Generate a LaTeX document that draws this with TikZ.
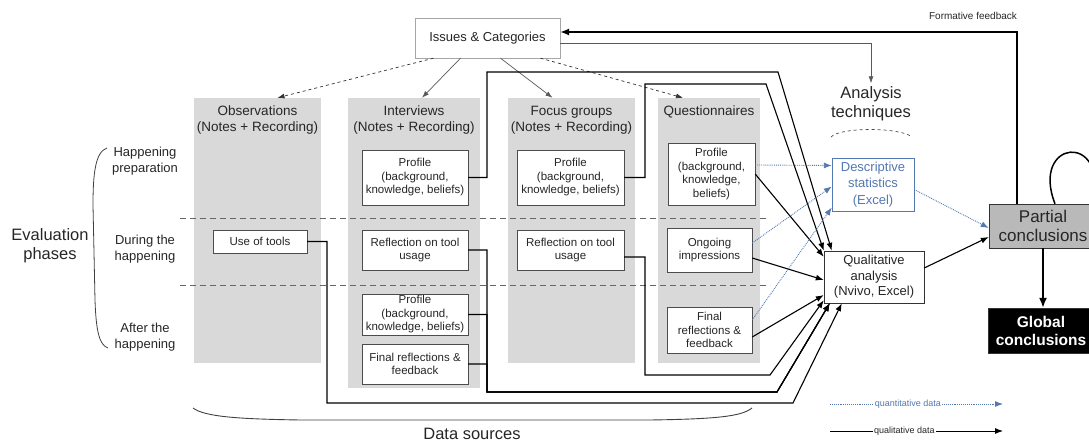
\documentclass[tikz,border=0pt]{standalone}
\usepackage{fontspec}
\setmainfont{Liberation Sans}
\usetikzlibrary{arrows.meta,positioning,calc}

\definecolor{colgray}{RGB}{217,217,217}
\definecolor{partgray}{RGB}{185,185,185}
\definecolor{quantblue}{RGB}{84,120,175}
\definecolor{txtgray}{RGB}{38,38,38}

\begin{document}
\begin{tikzpicture}[x=1pt,y=-1pt,
    colbg/.style={fill=colgray,draw=none,inner sep=0pt},
    srcbox/.style={draw=black!70,fill=white,align=center,inner sep=0pt,text=txtgray,
        font=\fontsize{11.5}{13.5}\selectfont},
    coltitle/.style={align=center,text=txtgray,font=\fontsize{13.5}{16}\selectfont},
    phaselabel/.style={align=center,text=txtgray,font=\fontsize{13}{16}\selectfont},
    biglabel/.style={align=center,text=txtgray,font=\fontsize{16.5}{19}\selectfont},
    anbox/.style={draw=black!80,fill=white,align=center,inner sep=0pt,text=txtgray,
        font=\fontsize{13}{15.5}\selectfont},
    qualarrow/.style={draw=black,line width=1.1pt,-{Latex[length=8pt,width=6pt]}},
    quantarrow/.style={draw=quantblue,densely dotted,line width=0.9pt,-{Latex[length=8pt,width=6pt]}},
    thinarrow/.style={draw=black!65,line width=0.7pt,-{Latex[length=7pt,width=5pt]}},
    dasharrow/.style={draw=black!80,dashed,line width=0.7pt,-{Latex[length=7pt,width=5pt]}},
    phaseline/.style={draw=black!60,dash pattern=on 6pt off 4pt,line width=0.8pt},
    bigarrow/.style={draw=black,line width=1.6pt,-{Latex[length=10pt,width=8pt]}},
]
    \useasboundingbox (0,0) rectangle (1089,443);

    % Data source columns
    \node[colbg,minimum width=127pt,minimum height=265pt] (obs) at (257.5,230.5) {};
    \node[colbg,minimum width=132pt,minimum height=290pt] (int) at (414,243) {};
    \node[colbg,minimum width=127pt,minimum height=265pt] (foc) at (571.5,230.5) {};
    \node[colbg,minimum width=102pt,minimum height=265pt] (que) at (709,230.5) {};

    \node[coltitle] (obst) at (257.5,120) {Observations\\(Notes + Recording)};
    \node[coltitle] (intt) at (414,120) {Interviews\\(Notes + Recording)};
    \node[coltitle] (foct) at (571.5,120) {Focus groups\\(Notes + Recording)};
    \node[coltitle] (quet) at (709,112) {Questionnaires};

    % Phase separators
    \draw[phaseline] (180,218) -- (770,218);
    \draw[phaseline] (180,285) -- (770,285);

    % Sources
    \node[srcbox,minimum width=94pt,minimum height=23pt] (uot) at (260,241.5) {Use of tools};
    \node[srcbox,minimum width=106pt,minimum height=55pt] (ip1) at (415,177.5) {Profile\\(background,\\knowledge, beliefs)};
    \node[srcbox,minimum width=106pt,minimum height=40pt] (ir) at (415,250) {Reflection on tool\\usage};
    \node[srcbox,minimum width=106pt,minimum height=41pt] (ip2) at (415,314.5) {Profile\\(background,\\knowledge, beliefs)};
    \node[srcbox,minimum width=106pt,minimum height=40pt] (ifin) at (415,364) {Final reflections \&\\feedback};
    \node[srcbox,minimum width=107pt,minimum height=55pt] (fp) at (570.5,177.5) {Profile\\(background,\\knowledge, beliefs)};
    \node[srcbox,minimum width=107pt,minimum height=40pt] (fr) at (570.5,250) {Reflection on tool\\usage};
    \node[srcbox,minimum width=87pt,minimum height=62pt] (qp) at (711.5,174) {Profile\\(background,\\knowledge,\\beliefs)};
    \node[srcbox,minimum width=85pt,minimum height=44pt] (qo) at (709.5,250) {Ongoing\\impressions};
    \node[srcbox,minimum width=85pt,minimum height=46pt] (qf) at (709.5,330) {Final\\reflections \&\\feedback};

    % Issues and analysis
    \node[anbox,draw=black!35,minimum width=145pt,minimum height=40pt] (issues) at (487.5,38) {Issues \& Categories};
    \node[biglabel] (atech) at (871,104) {Analysis\\techniques};
    \node[anbox,draw=quantblue,text=quantblue,minimum width=82pt,minimum height=53pt,
        font=\fontsize{13}{16.5}\selectfont] (desc) at (873,184.5) {Descriptive\\statistics\\(Excel)};
    \node[anbox,minimum width=100pt,minimum height=52pt] (qa) at (874,277) {Qualitative\\analysis\\(Nvivo, Excel)};
    \node[anbox,fill=partgray,minimum width=108pt,minimum height=44pt,
        font=\fontsize{17}{18.5}\selectfont] (part) at (1043,226) {Partial\\conclusions};
    \node[anbox,fill=black,text=white,minimum width=106pt,minimum height=45pt,
        font=\fontsize{15.5}{18}\selectfont\bfseries] (glob) at (1041,330.5) {Global\\conclusions};

    % Labels
    \node[biglabel] (evph) at (50,246) {Evaluation\\phases};
    \node[phaselabel] (ph1) at (145,161) {Happening\\preparation};
    \node[phaselabel] (ph2) at (145,249) {During the\\happening};
    \node[phaselabel] (ph3) at (145,337) {After the\\happening};
    \node[biglabel] (dsrc) at (472,434) {Data sources};
    \node[text=txtgray,font=\fontsize{10}{12}\selectfont] (ffb) at (973,16) {Formative feedback};

    % Braces
    \draw[black!75,line width=0.8pt] (107,148) .. controls (95,152) and (93,175) .. (93,205)
        -- (95,300) .. controls (96,330) and (99,345) .. (108,348);
    \draw[black!75,line width=0.9pt] (193,408) .. controls (205,417) and (240,419) .. (300,420)
        -- (650,420) .. controls (720,419) and (742,416) .. (752,408);
    \draw[black!70,dashed,line width=0.7pt] (831,137) .. controls (840,127) and (900,127) .. (912,137);

    % Issues to sources
    \draw[dasharrow] ([xshift=-54pt]issues.south) -- ([xshift=20pt]obs.north);
    \draw[thinarrow] ([xshift=-27pt]issues.south) -- ([xshift=8pt]int.north);
    \draw[thinarrow] ([xshift=13pt]issues.south) -- ([xshift=-19pt]foc.north);
    \draw[dasharrow] ([xshift=53pt]issues.south) -- ([xshift=-26pt]que.north);
    \draw[thinarrow] ([yshift=-5pt]issues.east) -| (atech.north);

    % Qualitative data
    \draw[qualarrow] (ip1.east) -| (487,72) -- (778,72) -- ([xshift=8pt]qa.north west);
    \draw[qualarrow] (fp.east) -| (645,84) -- (766,84) -- (qa.north west);
    \draw[qualarrow] (qp.east) -- ([yshift=-6pt]qa.north west);
    \draw[qualarrow] ([yshift=-8pt]qo.east) -- ([yshift=-3pt]qa.west);
    \draw[qualarrow] ([yshift=-7pt]qf.east) -- ([yshift=-18pt]qa.west);
    \draw[qualarrow] ([yshift=-7pt]fr.east) -| (645,375) -- (770,375) -- ([yshift=3pt]qa.south west);
    \foreach \src in {ir,ip2,ifin}
        \draw[qualarrow] (\src.east) -| (487,392) -- (777,392) -- ([xshift=6pt]qa.south west);
    \draw[qualarrow] (uot.east) -| (327,403) -- (793,403) -- ([xshift=18pt]qa.south west);

    % Quantitative data
    \draw[quantarrow] ([yshift=9pt]qp.east) -- ([yshift=19pt]desc.west);
    \draw[quantarrow] ([yshift=7pt]qo.east) -- ([yshift=-2pt]desc.west);
    \draw[quantarrow] ([yshift=10pt]qf.east) -- ([yshift=-23pt]desc.west);
    \draw[quantarrow] ([yshift=-5pt]desc.east) -- ([yshift=-2pt]part.west);
    \draw[qualarrow] ([yshift=9pt]qa.east) -- ([yshift=-11pt]part.west);

    % Conclusions and feedback
    \draw[bigarrow] (part.south) -- (part.south |- glob.north);
    \draw[black,line width=1.5pt] ([xshift=12pt]part.north) .. controls (1030,140) and (1108,130) .. ([xshift=51pt]part.north);
    \draw[black,line width=1.4pt,-{Latex[length=9pt,width=7pt]}] ([xshift=-26pt]part.north) |- ([yshift=6pt]issues.east);

    % Legend
    \coordinate (qnA) at (830,404);
    \coordinate (qnB) at (1003,404);
    \coordinate (qlA) at (830,431);
    \coordinate (qlB) at (1003,431);
    \draw[quantarrow] (qnA) -- (qnB) node[pos=0.45,fill=white,inner sep=1pt,text=quantblue,
        font=\fontsize{9}{11}\selectfont] (lgqn) {quantitative data};
    \draw[qualarrow,line width=0.9pt] (qlA) -- (qlB) node[pos=0.43,fill=white,inner sep=1pt,text=txtgray,
        font=\fontsize{9}{11}\selectfont] (lgql) {qualitative data};
\end{tikzpicture}
\end{document}
